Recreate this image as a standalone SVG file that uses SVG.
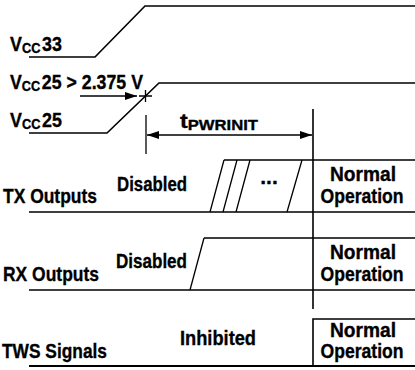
<svg xmlns="http://www.w3.org/2000/svg" width="415" height="370" viewBox="0 0 415 370">
<defs>
<style>
.ln{fill:none;stroke:#000;stroke-width:1.6}
.th{fill:none;stroke:#000;stroke-width:1.3}
text{font-family:"Liberation Sans",Arial,sans-serif;font-weight:bold;font-size:21px;fill:#000;stroke:#000;stroke-width:0.35}
.sub{font-size:15px}
.mid{text-anchor:middle}
.op{font-size:20px}
</style>
<marker id="ah" viewBox="0 0 12 8" refX="12" refY="4" markerWidth="12" markerHeight="8" markerUnits="userSpaceOnUse" orient="auto-start-reverse">
<path d="M0,0 L12,4 L0,8 Z" fill="#000"/>
</marker>
</defs>
<rect width="415" height="370" fill="#fff"/>
<g id="connectors">
<path class="ln" d="M29,57 H95 L145,6 H415"/>
<path class="ln" d="M29,133 H107 L159,83 H415"/>
<path class="th" d="M80,96 H137" marker-end="url(#ah)"/>
<path class="th" d="M139,96 H152 M145.5,90 V102"/>
<path class="th" d="M146,115 V154"/>
<path class="ln" d="M313,109 V309"/>
<path class="th" d="M147,135 H312" marker-start="url(#ah)" marker-end="url(#ah)"/>
<path class="ln" d="M29,212 H415 M224,160 H415"/>
<path class="th" d="M210,212 L224,160 M223,212 L237,160 M236,212 L250,160 M287,212 L302,160"/>
<path class="ln" d="M29,290 H415 M204,238 H415"/>
<path class="th" d="M190,290 L204,238"/>
<path class="ln" d="M29,366 H415" style="stroke-width:2.2"/>
<path class="ln" d="M313,366 V319 H415"/>
</g>
<g id="vcc33">
<text x="10" y="51" textLength="52" lengthAdjust="spacingAndGlyphs">V<tspan class="sub" dy="2">CC</tspan><tspan dx="2" dy="-2">33</tspan></text>
</g>
<g id="vcc25-threshold">
<text x="10" y="89" textLength="133" lengthAdjust="spacingAndGlyphs">V<tspan class="sub" dy="2">CC</tspan><tspan dx="2" dy="-2">25 &gt; 2.375 V</tspan></text>
</g>
<g id="vcc25">
<text x="10" y="127" textLength="52" lengthAdjust="spacingAndGlyphs">V<tspan class="sub" dy="2">CC</tspan><tspan dx="2" dy="-2">25</tspan></text>
</g>
<g id="tpwrinit">
<text x="180" y="128" textLength="78" lengthAdjust="spacingAndGlyphs">t<tspan class="sub" dy="2">PWRINIT</tspan></text>
</g>
<g id="tx">
<text x="3" y="203" textLength="94" lengthAdjust="spacingAndGlyphs">TX Outputs</text>
<text x="117" y="191" textLength="70" lengthAdjust="spacingAndGlyphs">Disabled</text>
<text x="269" y="184" class="mid">...</text>
<text x="363" y="181" class="mid op" textLength="66" lengthAdjust="spacingAndGlyphs">Normal</text>
<text x="362" y="203" class="mid op" textLength="83" lengthAdjust="spacingAndGlyphs">Operation</text>
</g>
<g id="rx">
<text x="3" y="281" textLength="96" lengthAdjust="spacingAndGlyphs">RX Outputs</text>
<text x="116" y="268" textLength="71" lengthAdjust="spacingAndGlyphs">Disabled</text>
<text x="363" y="259" class="mid op" textLength="66" lengthAdjust="spacingAndGlyphs">Normal</text>
<text x="362" y="281" class="mid op" textLength="83" lengthAdjust="spacingAndGlyphs">Operation</text>
</g>
<g id="tws">
<text x="2" y="358" textLength="105" lengthAdjust="spacingAndGlyphs">TWS Signals</text>
<text x="180" y="345" textLength="76" lengthAdjust="spacingAndGlyphs">Inhibited</text>
<text x="363" y="337" class="mid op" textLength="66" lengthAdjust="spacingAndGlyphs">Normal</text>
<text x="362" y="358" class="mid op" textLength="83" lengthAdjust="spacingAndGlyphs">Operation</text>
</g>
</svg>
